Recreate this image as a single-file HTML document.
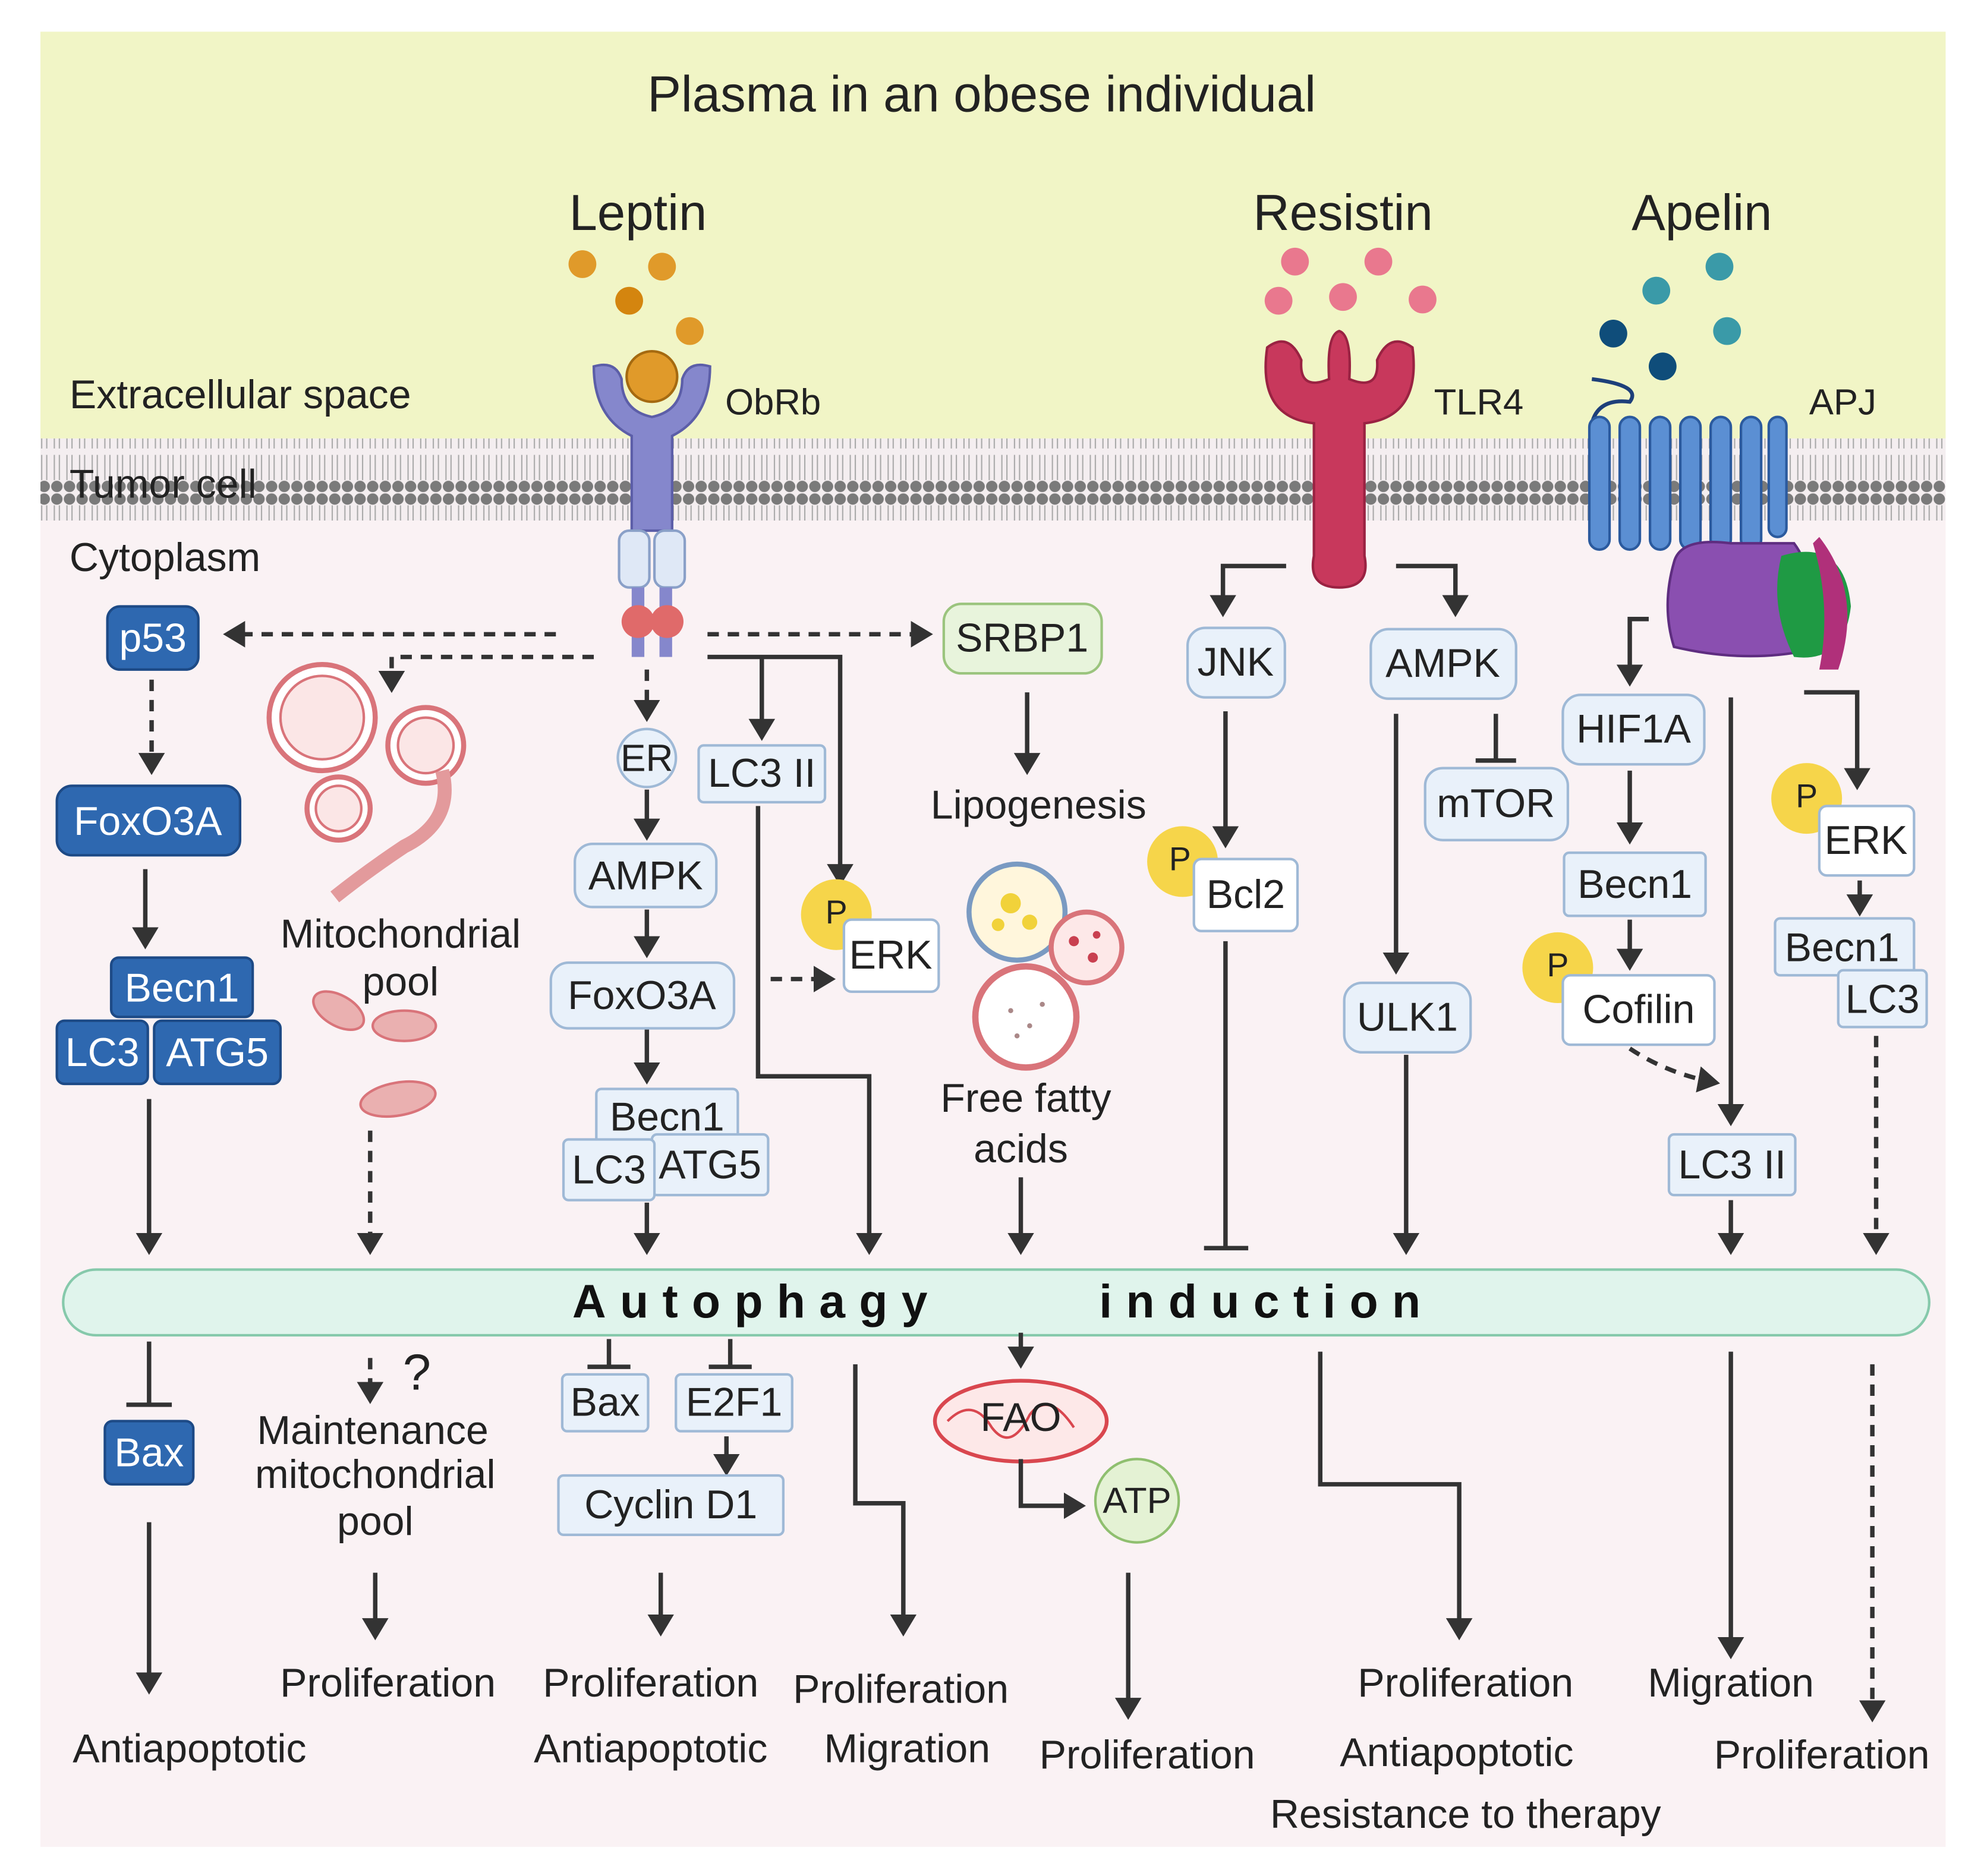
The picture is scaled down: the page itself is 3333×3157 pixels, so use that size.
<!DOCTYPE html>
<html><head><meta charset="utf-8"><style>
html,body{margin:0;padding:0;background:#fff}
svg{display:block}
text{font-family:"Liberation Sans",sans-serif;fill:#222}
.lb{font-size:32px;text-anchor:middle}
.bt{font-size:32px;text-anchor:middle;dominant-baseline:central}
.wt{fill:#fff}
.lbox{fill:#e9f1fa;stroke:#9fb9d6;stroke-width:2}
.dbox{fill:#2e68b0;stroke:#1d4a86;stroke-width:2}
.a{stroke:#333;stroke-width:3.5;fill:none}
.d{stroke:#333;stroke-width:3.5;fill:none;stroke-dasharray:9 7}
</style></head><body>
<svg width="3333" height="3157" viewBox="0 0 1568 1485" xmlns="http://www.w3.org/2000/svg">
<defs>
<marker id="ar" markerWidth="6" markerHeight="6" refX="4" refY="3" orient="auto" markerUnits="strokeWidth"><path d="M0,0 L5,3 L0,6 z" fill="#333"/></marker>
<pattern id="mem" x="0" y="0" width="10" height="65" patternUnits="userSpaceOnUse">
<circle cx="5" cy="5" r="4.5" fill="#7a7a7a"/><circle cx="5" cy="60" r="4.5" fill="#7a7a7a"/>
<path d="M3,10 L3,30 M7,10 L7,30 M3,35 L3,55 M7,35 L7,55" stroke="#aaa" stroke-width="1"/>
</pattern>
</defs>
<rect x="32" y="25" width="1508" height="330" fill="#f1f5c6"/>
<rect x="32" y="355" width="1508" height="1107" fill="#faf2f4"/>
<rect x="32" y="347" width="1508" height="65" fill="#f4eef0"/>
<rect x="32" y="347" width="1508" height="65" fill="url(#mem)"/>

<text x="777" y="88" style="font-size:40px;text-anchor:middle">Plasma in an obese individual</text>
<text x="505" y="182" style="font-size:40px;text-anchor:middle">Leptin</text>
<text x="1063" y="182" style="font-size:40px;text-anchor:middle">Resistin</text>
<text x="1347" y="182" style="font-size:40px;text-anchor:middle">Apelin</text>
<g fill="#e09a2a"><circle cx="461" cy="209" r="11"/><circle cx="524" cy="211" r="11"/><circle cx="498" cy="238" r="11" fill="#d4850f"/><circle cx="546" cy="262" r="11"/></g>
<g fill="#e9788e"><circle cx="1025" cy="207" r="11"/><circle cx="1091" cy="207" r="11"/><circle cx="1012" cy="238" r="11"/><circle cx="1063" cy="235" r="11"/><circle cx="1126" cy="237" r="11"/></g>
<g><circle cx="1361" cy="211" r="11" fill="#3a9aa8"/><circle cx="1311" cy="230" r="11" fill="#3a9aa8"/><circle cx="1367" cy="262" r="11" fill="#3a9aa8"/><circle cx="1277" cy="264" r="11" fill="#0f4d7a"/><circle cx="1316" cy="290" r="11" fill="#0f4d7a"/></g>

<text x="55" y="323" style="font-size:32px">Extracellular space</text>
<text x="574" y="328" style="font-size:29px">ObRb</text>
<text x="1135" y="328" style="font-size:29px">TLR4</text>
<text x="1432" y="328" style="font-size:29px">APJ</text>
<text x="55" y="394" style="font-size:32px">Tumor cell</text>
<text x="55" y="452" style="font-size:32px">Cytoplasm</text>

<!-- ObRb -->
<path d="M470,290 Q470,330 500,345 L500,420 L532,420 L532,345 Q562,330 562,290 Q545,285 540,300 Q540,325 516,330 Q492,325 492,300 Q487,285 470,290 z" fill="#8587cc" stroke="#5c5ea8" stroke-width="2"/>
<circle cx="516" cy="298" r="20" fill="#e09a2a" stroke="#a56a10" stroke-width="2"/>
<rect x="490" y="420" width="24" height="45" rx="8" fill="#dfe8f6" stroke="#8aa0c8" stroke-width="2"/>
<rect x="518" y="420" width="24" height="45" rx="8" fill="#dfe8f6" stroke="#8aa0c8" stroke-width="2"/>
<rect x="500" y="465" width="10" height="55" fill="#8587cc"/><rect x="522" y="465" width="10" height="55" fill="#8587cc"/>
<circle cx="505" cy="492" r="13" fill="#e06a6a"/><circle cx="528" cy="492" r="13" fill="#e06a6a"/>

<!-- TLR4 -->
<path d="M1003,275 Q995,330 1040,335 L1040,440 Q1035,465 1060,465 Q1085,465 1080,440 L1080,335 Q1125,330 1118,275 Q1100,262 1090,285 Q1092,310 1068,300 Q1070,265 1060,262 Q1050,265 1052,300 Q1028,310 1030,285 Q1020,262 1003,275 z" fill="#c8385c" stroke="#9a2242" stroke-width="2"/>

<!-- APJ -->
<path d="M1260,335 Q1265,315 1290,318 Q1300,305 1260,300" stroke="#1d3f7a" stroke-width="3" fill="none"/>
<g fill="#5b8fd3" stroke="#2b5a9e" stroke-width="2">
<rect x="1258" y="330" width="16" height="105" rx="8"/><rect x="1282" y="330" width="16" height="105" rx="8"/><rect x="1306" y="330" width="16" height="105" rx="8"/><rect x="1330" y="330" width="16" height="105" rx="8"/><rect x="1354" y="330" width="16" height="105" rx="8"/><rect x="1378" y="330" width="16" height="105" rx="8"/><rect x="1400" y="330" width="14" height="95" rx="7"/>
</g>
<path d="M1325,445 Q1330,425 1370,430 L1420,430 Q1435,450 1425,470 L1430,515 Q1380,525 1325,512 Q1315,480 1325,445 z" fill="#8a4fb0" stroke="#5e2d80" stroke-width="2"/>
<path d="M1410,440 Q1460,425 1465,480 Q1460,525 1420,520 Q1400,480 1410,440 z" fill="#1f9a44"/>
<path d="M1440,425 Q1475,470 1455,530 L1440,530 Q1450,480 1435,430 z" fill="#b0307a"/>

<!-- Autophagy bar -->
<rect x="50" y="1005" width="1477" height="52" rx="26" fill="#e0f4ec" stroke="#86c9ab" stroke-width="2"/>
<text x="453" y="1043" style="font-size:37px;font-weight:bold;letter-spacing:11px;fill:#111">Autophagy</text>
<text x="870" y="1043" style="font-size:37px;font-weight:bold;letter-spacing:11px;fill:#111">induction</text>

<!-- left -->
<path class="d" d="M440,502 L180,502" marker-end="url(#ar)"/>
<path class="d" d="M470,520 L310,520 L310,545" marker-end="url(#ar)"/>
<rect class="dbox" x="85" y="480" width="72" height="50" rx="10"/><text class="bt wt" x="121" y="505">p53</text>
<path class="d" d="M120,538 L120,610" marker-end="url(#ar)"/>
<rect class="dbox" x="45" y="622" width="145" height="55" rx="12"/><text class="bt wt" x="117" y="650">FoxO3A</text>
<path class="a" d="M115,688 L115,748" marker-end="url(#ar)"/>
<rect class="dbox" x="88" y="758" width="112" height="47" rx="6"/><text class="bt wt" x="144" y="782">Becn1</text>
<rect class="dbox" x="45" y="808" width="72" height="50" rx="6"/><text class="bt wt" x="81" y="833">LC3</text>
<rect class="dbox" x="122" y="808" width="100" height="50" rx="6"/><text class="bt wt" x="172" y="833">ATG5</text>
<path class="a" d="M118,870 L118,990" marker-end="url(#ar)"/>
<!-- mitochondria -->
<g fill="#fff" stroke="#d9747a" stroke-width="4">
<circle cx="255" cy="568" r="42"/><circle cx="255" cy="568" r="33" fill="#fbe6e6" stroke-width="2"/>
<circle cx="337" cy="590" r="30"/><circle cx="337" cy="590" r="22" fill="#fbe6e6" stroke-width="2"/>
<circle cx="268" cy="640" r="25"/><circle cx="268" cy="640" r="18" fill="#fbe6e6" stroke-width="2"/>
</g>
<path d="M350,610 Q360,650 320,670 Q290,690 265,710" stroke="#e39a9c" stroke-width="11" fill="none"/>
<g fill="#eab0b0" stroke="#d9747a" stroke-width="2">
<ellipse cx="268" cy="800" rx="22" ry="12" transform="rotate(30 268 800)"/>
<ellipse cx="320" cy="812" rx="25" ry="12"/>
<ellipse cx="315" cy="870" rx="30" ry="13" transform="rotate(-10 315 870)"/>
</g>
<text class="lb" x="317" y="750">Mitochondrial</text>
<text class="lb" x="317" y="788">pool</text>
<path class="d" d="M293,895 L293,990" marker-end="url(#ar)"/>

<!-- leptin middle -->
<path class="d" d="M512,530 L512,568" marker-end="url(#ar)"/>
<circle cx="512" cy="600" r="23" class="lbox"/><text class="bt" x="512" y="600" style="font-size:30px">ER</text>
<path class="a" d="M512,625 L512,662" marker-end="url(#ar)"/>
<rect class="lbox" x="455" y="668" width="112" height="50" rx="14"/><text class="bt" x="511" y="693">AMPK</text>
<path class="a" d="M512,720 L512,755" marker-end="url(#ar)"/>
<rect class="lbox" x="436" y="762" width="145" height="52" rx="14"/><text class="bt" x="508" y="788">FoxO3A</text>
<path class="a" d="M512,815 L512,855" marker-end="url(#ar)"/>
<rect class="lbox" x="472" y="862" width="112" height="45" rx="4"/><text class="bt" x="528" y="884">Becn1</text>
<rect class="lbox" x="516" y="898" width="92" height="48" rx="4"/><text class="bt" x="562" y="922">ATG5</text>
<rect class="lbox" x="446" y="902" width="72" height="48" rx="4"/><text class="bt" x="482" y="926">LC3</text>
<path class="a" d="M512,952 L512,990" marker-end="url(#ar)"/>
<path class="a" d="M560,520 L665,520 L665,698" marker-end="url(#ar)"/>
<path class="a" d="M603,520 L603,583" marker-end="url(#ar)"/>
<rect class="lbox" x="553" y="590" width="100" height="45" rx="4"/><text class="bt" x="603" y="612">LC3 II</text>
<path class="a" d="M600,638 L600,852 L688,852 L688,990" marker-end="url(#ar)"/>
<circle cx="662" cy="724" r="28" fill="#f6d54a"/><text class="bt" x="662" y="722" style="font-size:26px">P</text>
<rect x="668" y="728" width="75" height="57" rx="6" fill="#fff" stroke="#9fb9d6" stroke-width="2"/><text class="bt" x="705" y="756">ERK</text>
<path class="d" d="M610,775 L658,775" marker-end="url(#ar)"/>
<path class="d" d="M560,502 L735,502" marker-end="url(#ar)"/>
<rect x="747" y="478" width="125" height="55" rx="14" fill="#e8f4dc" stroke="#9bc47e" stroke-width="2"/><text class="bt" x="809" y="505">SRBP1</text>
<path class="a" d="M813,548 L813,610" marker-end="url(#ar)"/>
<text class="lb" x="822" y="648">Lipogenesis</text>
<circle cx="805" cy="722" r="38" fill="#fff6dc" stroke="#7a9ac2" stroke-width="4"/>
<circle cx="800" cy="715" r="8" fill="#f1d23a"/><circle cx="815" cy="730" r="6" fill="#f1d23a"/><circle cx="790" cy="732" r="5" fill="#f1d23a"/>
<circle cx="860" cy="750" r="28" fill="#fde8e8" stroke="#d9747a" stroke-width="4"/>
<circle cx="850" cy="745" r="4" fill="#c94050"/><circle cx="865" cy="758" r="4" fill="#c94050"/><circle cx="868" cy="740" r="3" fill="#c94050"/>
<circle cx="812" cy="805" r="40" fill="#fff" stroke="#d9747a" stroke-width="5"/>
<circle cx="800" cy="800" r="2" fill="#a88"/><circle cx="815" cy="812" r="2" fill="#a88"/><circle cx="825" cy="795" r="2" fill="#a88"/><circle cx="805" cy="820" r="2" fill="#a88"/>
<text class="lb" x="812" y="880">Free fatty</text>
<text class="lb" x="808" y="920">acids</text>
<path class="a" d="M808,932 L808,990" marker-end="url(#ar)"/>

<!-- resistin -->
<path class="a" d="M1018,448 L968,448 L968,485" marker-end="url(#ar)"/>
<path class="a" d="M1105,448 L1152,448 L1152,485" marker-end="url(#ar)"/>
<rect class="lbox" x="940" y="497" width="77" height="55" rx="14"/><text class="bt" x="978" y="524">JNK</text>
<rect class="lbox" x="1085" y="498" width="115" height="55" rx="14"/><text class="bt" x="1142" y="525">AMPK</text>
<path class="a" d="M1184,565 L1184,602 M1168,602 L1200,602"/>
<rect class="lbox" x="1128" y="608" width="113" height="57" rx="14"/><text class="bt" x="1184" y="636">mTOR</text>
<path class="a" d="M970,563 L970,668" marker-end="url(#ar)"/>
<circle cx="936" cy="682" r="28" fill="#f6d54a"/><text class="bt" x="934" y="680" style="font-size:26px">P</text>
<rect x="945" y="680" width="82" height="57" rx="6" fill="#fff" stroke="#9fb9d6" stroke-width="2"/><text class="bt" x="986" y="708">Bcl2</text>
<path class="a" d="M970,745 L970,988 M953,988 L988,988"/>
<path class="a" d="M1105,565 L1105,768" marker-end="url(#ar)"/>
<rect class="lbox" x="1064" y="778" width="100" height="55" rx="14"/><text class="bt" x="1114" y="805">ULK1</text>
<path class="a" d="M1113,835 L1113,990" marker-end="url(#ar)"/>

<!-- apelin -->
<path class="a" d="M1428,548 L1470,548 L1470,622" marker-end="url(#ar)"/>
<path class="a" d="M1305,490 L1290,490 L1290,540" marker-end="url(#ar)"/>
<rect class="lbox" x="1237" y="550" width="112" height="55" rx="14"/><text class="bt" x="1293" y="577">HIF1A</text>
<path class="a" d="M1290,610 L1290,665" marker-end="url(#ar)"/>
<rect class="lbox" x="1238" y="675" width="112" height="50" rx="4"/><text class="bt" x="1294" y="700">Becn1</text>
<path class="a" d="M1290,728 L1290,765" marker-end="url(#ar)"/>
<circle cx="1233" cy="766" r="28" fill="#f6d54a"/><text class="bt" x="1233" y="764" style="font-size:26px">P</text>
<rect x="1237" y="772" width="120" height="55" rx="6" fill="#fff" stroke="#9fb9d6" stroke-width="2"/><text class="bt" x="1297" y="799">Cofilin</text>
<path class="d" d="M1290,830 Q1320,850 1358,857" marker-end="url(#ar)"/>
<path class="a" d="M1370,552 L1370,888" marker-end="url(#ar)"/>
<rect class="lbox" x="1321" y="898" width="100" height="48" rx="4"/><text class="bt" x="1371" y="922">LC3 II</text>
<path class="a" d="M1370,950 L1370,990" marker-end="url(#ar)"/>
<circle cx="1430" cy="632" r="28" fill="#f6d54a"/><text class="bt" x="1430" y="630" style="font-size:26px">P</text>
<rect x="1440" y="638" width="75" height="55" rx="6" fill="#fff" stroke="#9fb9d6" stroke-width="2"/><text class="bt" x="1477" y="665">ERK</text>
<path class="a" d="M1472,697 L1472,722" marker-end="url(#ar)"/>
<rect class="lbox" x="1405" y="727" width="110" height="45" rx="4"/><text class="bt" x="1458" y="750">Becn1</text>
<rect class="lbox" x="1455" y="768" width="70" height="45" rx="4"/><text class="bt" x="1490" y="791">LC3</text>
<path class="d" d="M1485,820 L1485,990" marker-end="url(#ar)"/>

<!-- below -->
<path class="a" d="M118,1062 L118,1112 M100,1112 L136,1112"/>
<rect class="dbox" x="83" y="1125" width="70" height="50" rx="6"/><text class="bt wt" x="118" y="1150">Bax</text>
<path class="a" d="M118,1205 L118,1338" marker-end="url(#ar)"/>
<text class="lb" x="150" y="1395">Antiapoptotic</text>
<path class="d" d="M293,1075 L293,1108" marker-end="url(#ar)"/>
<text x="330" y="1100" style="font-size:40px;text-anchor:middle">?</text>
<text class="lb" x="295" y="1143">Maintenance</text>
<text class="lb" x="297" y="1178">mitochondrial</text>
<text class="lb" x="297" y="1215">pool</text>
<path class="a" d="M297,1245 L297,1295" marker-end="url(#ar)"/>
<text class="lb" x="307" y="1343">Proliferation</text>
<path class="a" d="M482,1060 L482,1082 M465,1082 L499,1082"/>
<rect class="lbox" x="445" y="1088" width="68" height="45" rx="4"/><text class="bt" x="479" y="1110">Bax</text>
<path class="a" d="M578,1060 L578,1082 M561,1082 L595,1082"/>
<rect class="lbox" x="535" y="1088" width="92" height="45" rx="4"/><text class="bt" x="581" y="1110">E2F1</text>
<path class="a" d="M575,1137 L575,1165" marker-end="url(#ar)"/>
<rect class="lbox" x="442" y="1168" width="178" height="47" rx="4"/><text class="bt" x="531" y="1191">Cyclin D1</text>
<path class="a" d="M523,1245 L523,1292" marker-end="url(#ar)"/>
<text class="lb" x="515" y="1343">Proliferation</text>
<text class="lb" x="515" y="1395">Antiapoptotic</text>
<path class="a" d="M677,1080 L677,1190 L715,1190 L715,1292" marker-end="url(#ar)"/>
<text class="lb" x="713" y="1348">Proliferation</text>
<text class="lb" x="718" y="1395">Migration</text>
<path class="a" d="M808,1055 L808,1080" marker-end="url(#ar)"/>
<ellipse cx="808" cy="1125" rx="68" ry="32" fill="#fde8e8" stroke="#d9474f" stroke-width="3"/>
<path d="M750,1125 Q770,1105 785,1130 Q800,1150 815,1120 Q830,1100 850,1130" stroke="#d9474f" stroke-width="2" fill="none"/>
<text class="bt" x="808" y="1122">FAO</text>
<path class="a" d="M808,1155 L808,1192 L856,1192" marker-end="url(#ar)"/>
<circle cx="900" cy="1188" r="33" fill="#e4f2d4" stroke="#8fbf6f" stroke-width="2"/><text class="bt" x="900" y="1188" style="font-size:29px">ATP</text>
<path class="a" d="M893,1245 L893,1358" marker-end="url(#ar)"/>
<text class="lb" x="908" y="1400">Proliferation</text>
<path class="a" d="M1045,1070 L1045,1175 L1155,1175 L1155,1295" marker-end="url(#ar)"/>
<text class="lb" x="1160" y="1343">Proliferation</text>
<text class="lb" x="1153" y="1398">Antiapoptotic</text>
<text class="lb" x="1160" y="1447">Resistance to therapy</text>
<path class="a" d="M1370,1070 L1370,1310" marker-end="url(#ar)"/>
<text class="lb" x="1370" y="1343">Migration</text>
<path class="d" d="M1482,1080 L1482,1360" marker-end="url(#ar)"/>
<text class="lb" x="1442" y="1400">Proliferation</text>
</svg>
</body></html>
